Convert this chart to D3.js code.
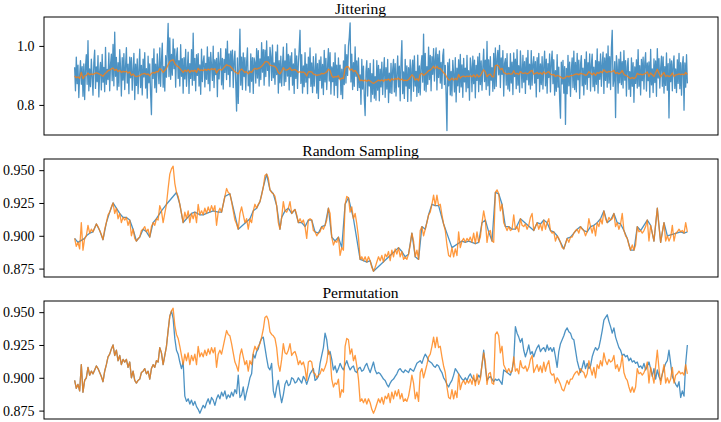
<!DOCTYPE html>
<html><head><meta charset="utf-8">
<script src="https://cdn.jsdelivr.net/npm/d3@7"></script>
<style>body{margin:0;background:#fff}svg{display:block}</style>
</head><body><svg id="c" width="721" height="422"></svg>
<script>
// original series (orange)
const base = [
0.898,0.892,0.895,0.890,0.910,0.889,0.898,0.900,0.908,0.902,
0.905,0.903,0.906,0.909,0.907,0.904,0.901,0.897,0.905,0.910,
0.916,0.918,0.922,0.925,0.917,0.921,0.913,0.917,0.910,0.914,
0.912,0.914,0.908,0.912,0.900,0.905,0.898,0.896,0.898,0.899,
0.904,0.905,0.907,0.903,0.905,0.899,0.907,0.910,0.908,0.913,
0.912,0.923,0.919,0.910,0.917,0.924,0.936,0.947,0.951,0.953,
0.940,0.933,0.930,0.924,0.917,0.910,0.918,0.913,0.919,0.910,
0.917,0.913,0.918,0.910,0.924,0.916,0.919,0.916,0.921,0.917,
0.922,0.918,0.923,0.919,0.923,0.908,0.918,0.921,0.918,0.924,
0.930,0.936,0.933,0.932,0.926,0.919,0.912,0.909,0.905,0.917,
0.922,0.916,0.910,0.913,0.905,0.913,0.910,0.919,0.924,0.921,
0.924,0.926,0.931,0.937,0.946,0.947,0.944,0.935,0.933,0.932,
0.930,0.923,0.910,0.905,
0.914,0.926,0.919,0.918,0.921,0.926,0.917,0.919,0.920,0.916,
0.910,0.913,0.910,0.912,0.907,0.898,0.912,0.913,0.912,0.904,
0.903,0.900,0.902,0.903,0.907,0.905,0.908,0.912,0.921,0.917,
0.899,0.893,0.896,0.895,0.899,0.885,0.891,0.889,0.924,0.930,
0.929,0.918,0.922,0.913,0.917,0.909,0.899,0.882,0.884,0.881,
0.884,0.880,0.884,0.881,0.876,0.873,0.876,0.880,0.884,0.881,
0.885,0.880,0.886,0.884,0.888,0.881,0.889,0.884,0.890,0.886,
0.891,0.884,0.888,0.882,0.884,0.882,0.886,0.893,0.902,0.896,
0.884,0.889,0.882,0.904,0.907,0.900,0.905,0.910,0.916,0.918,
0.924,0.931,0.923,0.931,0.923,0.924,0.916,0.909,0.904,0.893,
0.885,0.884,0.891,0.884,0.890,0.885,0.903,0.891,0.896,0.898,
0.895,0.898,0.896,0.899,0.895,0.902,0.894,0.903,0.895,0.899,
0.910,0.919,0.912,
0.895,0.903,0.904,0.896,0.895,0.933,0.935,0.932,0.919,0.924,
0.910,0.907,0.904,0.907,0.904,0.905,0.916,0.905,0.907,0.903,
0.913,0.908,0.907,0.909,0.905,0.908,0.914,0.917,0.904,0.907,
0.910,0.905,0.909,0.904,0.912,0.905,0.910,0.913,0.904,0.902,
0.903,0.896,0.900,0.898,0.895,0.891,0.890,0.894,0.898,0.895,
0.899,0.899,0.902,0.904,0.905,0.902,0.907,0.905,0.904,0.900,
0.903,0.913,0.907,0.902,0.908,0.900,0.910,0.907,0.913,0.909,
0.919,0.913,0.910,0.914,0.912,0.913,0.917,0.907,0.910,0.905,
0.909,0.917,0.904,0.900,0.898,0.893,0.889,0.893,0.889,0.893,
0.907,0.903,0.904,0.902,0.904,0.907,0.912,0.896,0.908,0.902,
0.896,0.909,0.921,0.907,0.895,0.903,0.910,0.896,0.900,0.896,
0.899,0.908,0.896,0.902,0.903,0.905,0.903,0.904,0.902,0.910,
0.903
];
// jitter read at half-step resolution, added to the original (blue, top panel)
const jitterNoise = [
.03,-.05,.07,-.02,.04,-.07,.01,.06,-.04,.02, -.06,.05,-.08,.03,.07,-.03,.11,-.06,.02,-.04,
.05,-.01,-.07,.04,.08,-.05,.02,-.03,.06,-.08, .01,.04,-.05,.07,-.02,.03,-.06,.09,-.04,.01,
-.03,.06,-.07,.02,.05,-.04,.08,-.06,.13,-.02, .04,-.07,.03,-.05,.07,.01,-.08,.05,-.03,.06,
-.06,.02,.08,-.04,.03,-.07,.05,-.02,.06,-.05, .01,.07,-.08,.04,-.03,.06,-.06,.02,.09,-.04,
.03,-.07,.05,-.01,.07,-.05,.02,-.08,.06,-.03, .04,-.06,-.14,.05,-.02,.08,-.05,.03,-.07,.06,
.01,-.04,.07,-.06,.03,.09,-.05,.02,-.07,.05, -.03,.06,.14,-.04,.08,-.06,.02,-.05,.07,-.03,
.05,-.08,.03,.06,-.04,.02,-.06,.08,-.02,.04, -.07,.05,-.03,.07,-.05,.01,.06,-.08,.03,-.02,
.07,-.05,.13,-.03,.04,-.07,.06,-.01,.05,-.06, .02,-.08,.07,-.04,.03,.05,-.06,.02,-.03,.08,
-.05,.04,-.07,.06,.01,-.04,.08,-.06,.03,-.02, .05,-.08,.06,-.03,.02,.07,-.05,.04,-.07,.03,
-.02,.06,-.05,.08,-.03,.04,-.07,.05,-.01,.06, -.06,.03,.07,-.04,-.13,.05,-.10,.02,.14,-.05,
.04,-.07,.06,-.02,.05,-.06,.03,.08,-.04,.01, -.07,.06,-.03,.05,-.08,.04,.02,-.05,.07,-.03,
.06,-.06,.03,-.04,.08,-.02,.05,-.07,.04,-.05, .07,-.03,.02,-.08,.06,.03,-.05,.07,-.04,.01,
-.06,.05,-.02,.08,-.07,.04,-.03,.06,-.05,.02, .07,-.06,.03,-.04,.09,-.02,.05,-.07,.04,-.03,
.06,-.05,.02,-.08,.07,-.03,.05,-.06,.03,.08, .14,-.04,.06,-.07,.02,-.05,.07,-.03,.04,-.06,
.05,-.02,.08,-.05,.03,-.07,.06,-.04,.01,.07, -.06,.04,-.08,.05,-.02,.06,-.05,.03,-.07,.08,
-.03,.05,-.06,.02,.07,-.04,.06,-.08,.03,-.02, .05,-.06,.08,-.03,.04,-.07,.06,-.01,.05,-.05,
.03,-.07,.06,-.02,.08,-.05,.04,-.03,.07,.10, .16,-.04,.05,-.07,.03,-.05,.08,-.02,.04,-.06,
.06,-.04,.02,-.08,.07,-.03,.05,-.06,-.12,.03, .07,-.05,.04,-.02,.06,-.07,.03,-.04,.08,-.05,
.02,-.06,.07,-.03,.05,-.07,.04,-.02,.06,-.05, .03,.08,-.06,.04,-.03,.07,-.08,.02,-.04,.06,
-.05,.03,.07,-.04,.05,-.06,.02,.08,-.03,.04, -.07,.06,.13,-.05,.03,-.06,.07,-.02,.05,-.07,
.04,-.03,.06,-.08,.02,.05,-.05,.07,-.02,.03, -.06,.08,-.04,.05,-.07,.03,.06,-.03,.14,-.05,
.07,-.06,.02,-.04,.08,-.03,.05,-.07,.04,-.02, .06,-.05,.03,.07,-.08,.04,-.03,.06,-.05,.02,
-.06,.05,.08,-.04,.03,-.07,-.18,.05,-.02,.07, -.05,.03,-.06,.06,.02,-.04,.07,-.08,.04,-.02,
.05,-.06,.08,-.03,.04,-.07,.06,-.02,.03,-.05, .07,-.04,.02,-.08,.06,.03,-.05,.07,-.03,.05,
-.07,.04,-.02,.06,-.05,.08,-.03,.05,-.06,.02, .07,-.04,.04,-.06,.12,-.03,.05,-.07,.06,-.02,
.03,-.05,.08,-.04,.06,-.07,.02,.05,-.03,.07, -.06,.04,-.02,.06,-.08,.03,.05,-.04,.07,-.05,
.02,-.06,.07,-.03,.04,-.07,.06,-.02,.05,-.05, .08,-.04,.03,-.06,.07,.01,-.05,.06,-.03,.04,
-.07,.05,-.02,.08,-.04,.03,-.06,.07,-.05,.02, .06,-.03,.04,-.08,.05,-.02,.07,-.06,.03,-.04,
.06,-.05,.02,.07,-.04,.05,-.07,.03,-.02,.06, -.06,.04,.08,-.03,.05,-.07,.02,-.05,.07,-.04,
.03,-.08,-.14,.05,-.02,.06,-.05,.04,-.16,.03, -.06,.07,-.03,.05,-.07,.02,.06,-.04,.08,-.05,
.04,-.06,.07,-.02,.05,-.08,.03,.06,-.04,.02, -.07,.05,-.03,.08,-.05,.04,-.02,.06,-.06,.03,
.07,-.04,.02,-.06,.05,-.03,.08,-.07,.04,-.02, .06,-.05,.03,.07,-.08,.04,-.03,.06,-.05,.09,
-.04,.05,-.06,.08,.14,-.05,-.03,.03,-.15,.06, .02,-.07,.05,-.03,.07,-.04,.03,-.06,.08,-.02,
.05,-.07,.03,.06,-.04,.02,-.06,.07,-.03,.05, -.08,.04,-.02,.06,-.05,.08,-.04,.03,-.07,.05,
-.02,.06,-.05,.04,.07,-.06,.03,-.03,.05,-.07, .08,-.04,.02,-.06,.06,-.02,.04,-.08,.07,-.03,
.05,-.05,.03,.07,-.04,.06,-.07,.02,-.03,.08, -.05,.04,-.14,.06,-.02,.05,-.06,.03,.07,-.04,
.02,-.06,.05,-.03,.07,-.05,.04,-.07,.03,.06, -.12,.04,-.05,.06,-.03
];
// indices kept by random sampling (blue, middle panel)
const sampleIdx = [
0,2,6,7,9,11,13,15,17,19,21,23,25,27,29,31,33,35,37,39,41,43,45,47,49,52,55,61,63,65,67,70,72,75,77,79,81,83,86,88,90,93,98,105,107,109,111,113,115,117,119,121,123,
124,126,128,130,132,134,136,138,140,142,144,146,148,150,152,154,156,158,160,162,164,167,171,173,175,177,179,194,196,198,200,202,204,206,208,210,212,214,216,218,221,226,232,234,236,238,240,242,244,246,
248,250,252,254,256,258,260,262,264,267,275,277,279,281,283,285,287,289,291,293,295,297,299,301,303,305,307,309,311,313,315,317,319,321,323,325,327,329,331,333,335,337,339,343,345,347,349,351,353,355,363,365,367
];
// permuted series (blue, bottom panel): first segment unchanged, then the rest
const permKeep = 59;
const permTail = [
0.945,0.930,0.921,0.918,0.912,0.907,0.912,0.886,0.882,0.884,
0.880,0.883,0.879,0.882,0.878,0.876,0.873,0.876,0.879,0.877,
0.881,0.884,0.880,0.885,0.883,0.879,0.884,0.887,0.884,0.889,
0.886,0.890,0.884,0.887,0.885,0.889,0.886,0.891,0.888,0.902,
0.885,0.887,0.893,0.883,0.889,0.894,0.900,0.903,0.918,0.915,
0.920,0.922,0.927,0.930,0.931,0.923,0.915,0.908,0.906,0.911,
0.890,0.885,0.893,0.898,0.888,0.881,0.887,0.895,0.898,0.894,
0.895,0.900,0.899,0.896,0.897,0.900,0.898,0.896,0.901,0.899,
0.895,0.899,0.903,0.905,0.907,0.898,0.899,0.901,0.911,0.917,
0.923,0.934,0.929,0.918,0.920,0.914,0.906,0.909,0.904,0.907,
0.911,0.908,0.906,0.910,0.913,0.909,0.906,0.908,0.909,0.905,
0.904,0.907,0.908,0.905,0.906,0.909,0.911,0.907,0.904,0.908,
0.912,0.906,0.903,0.904,0.903,0.901,0.899,0.898,0.895,0.893,
0.896,0.898,0.899,0.901,0.903,0.906,0.907,0.905,0.904,0.906,
0.905,0.904,0.907,0.906,0.905,0.908,0.911,0.912,0.913,0.911,
0.915,0.918,0.916,0.913,0.912,0.911,0.909,0.908,0.910,0.909,
0.906,0.904,0.900,0.898,0.895,0.893,0.896,0.898,0.902,0.907,
0.905,0.903,0.901,0.899,0.898,0.900,0.898,0.901,0.903,0.900,
0.899,0.897,0.899,0.902,0.900,0.910,0.921,0.908,0.898,0.900,
0.901,0.899,0.897,0.899,0.898,0.899,0.897,0.895,0.906,0.905,
0.904,0.903,0.902,0.906,0.913,0.939,0.934,0.931,0.927,0.930,
0.921,0.916,0.920,0.925,0.918,0.920,0.916,0.920,0.923,0.925,
0.920,0.922,0.923,0.920,0.925,0.921,0.923,0.920,0.923,0.916,
0.908,0.920,0.926,0.929,0.932,0.936,0.938,0.935,0.934,0.930,
0.929,0.921,0.913,0.908,0.904,0.908,0.913,0.907,0.911,0.907,
0.909,0.916,0.920,0.923,0.921,0.923,0.929,0.936,0.944,0.946,
0.948,0.943,0.939,0.934,0.938,0.931,0.927,0.923,0.921,0.917,
0.918,0.916,0.917,0.913,0.915,0.912,0.913,0.911,0.912,0.908,
0.909,0.907,0.911,0.906,0.909,0.912,0.907,0.901,0.907,0.899,
0.906,0.901,0.898,0.903,0.907,0.911,0.913,0.921,0.911,0.901,
0.898,0.895,0.893,0.897,0.885,0.890,0.886,0.911,0.925
];
const titles = ["Jittering", "Random Sampling", "Permutation"];
const ticksTop = [0.8, 1.0];
const ticksLower = [0.875, 0.900, 0.925, 0.950];

// ---------- drawing ----------
const svg = d3.select("#c");
svg.append("rect").attr("width",721).attr("height",422).attr("fill","#fff");
const FONT = '"Liberation Serif","Times New Roman","DejaVu Serif",serif';
const L = 44, R = 718, PH = 118, tops = [17, 159, 301];
const N = base.length;
const x = d3.scaleLinear().domain([-0.05*(N-1), 1.05*(N-1)]).range([L, R]);
const BLUE = "#1f77b4", ORANGE = "#ff7f0e";

// jittered points sit at half-steps of the original index
const jittered = jitterNoise.map((n, j) => [j/2, base[Math.floor(j/2)] + n]);
const permuted = base.slice(0, permKeep).concat(permTail);

const panels = [
  {dom:[0.698,1.098], ticks:ticksTop, fmt:d3.format(".1f"),
   series:[{pts: jittered, c:BLUE},
           {pts: base.map((v,i)=>[i,v]), c:ORANGE}]},
  {dom:[0.8686,0.9585], ticks:ticksLower, fmt:d3.format(".3f"),
   series:[{pts: sampleIdx.map(i=>[i,base[i]]), c:BLUE},
           {pts: base.map((v,i)=>[i,v]), c:ORANGE}]},
  {dom:[0.8686,0.9585], ticks:ticksLower, fmt:d3.format(".3f"),
   series:[{pts: permuted.map((v,i)=>[i,v]), c:BLUE},
           {pts: base.map((v,i)=>[i,v]), c:ORANGE}]}
];

panels.forEach((p, k) => {
  const top = tops[k];
  const y = d3.scaleLinear().domain(p.dom).range([top+PH, top]);
  const g = svg.append("g");
  const line = d3.line().x(d=>x(d[0])).y(d=>y(d[1]));
  p.series.forEach(s => {
    g.append("path").attr("d", line(s.pts)).attr("fill","none")
      .attr("stroke", s.c).attr("stroke-width",1.3).attr("stroke-opacity",0.8)
      .attr("stroke-linejoin","round");
  });
  g.append("rect").attr("x",L).attr("y",top).attr("width",R-L).attr("height",PH)
    .attr("fill","none").attr("stroke","#000").attr("stroke-width",1);
  const ax = g.append("g").attr("transform",`translate(${L},0)`)
    .call(d3.axisLeft(y).tickValues(p.ticks).tickFormat(p.fmt).tickSize(4.7).tickPadding(4.8));
  ax.select(".domain").remove();
  ax.attr("font-family", FONT).attr("font-size", 14);
  ax.selectAll("line").attr("stroke","#000");
  ax.selectAll("text").attr("fill","#000").style("font-family", FONT);
  svg.append("text").attr("x",360.5).attr("y",top-3.5).attr("text-anchor","middle")
    .style("font-family",FONT).attr("font-size",15.6).attr("fill","#000").text(titles[k]);
});
</script></body></html>
